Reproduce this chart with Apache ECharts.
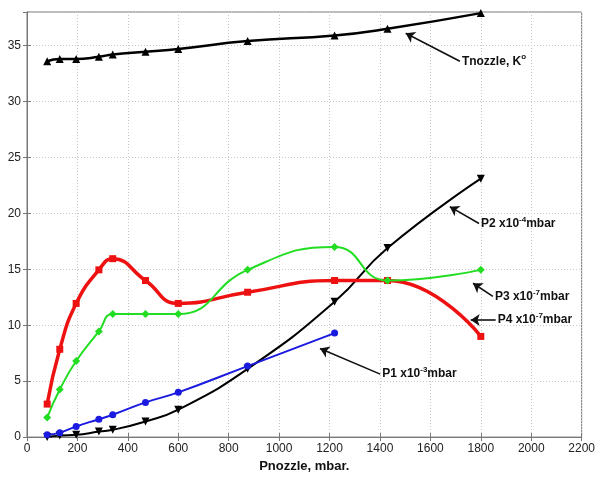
<!DOCTYPE html>
<html>
<head>
<meta charset="utf-8">
<script src="https://cdn.jsdelivr.net/npm/echarts@6/dist/echarts.min.js"></script>
<style>
  html, body { margin: 0; padding: 0; background: #fff; }
  #chart { width: 598px; height: 478px; }
</style>
</head>
<body>
<div id="chart"></div>
<script>
  // pressure at the nozzle, mbar
  const pnozzle = [80, 130, 195, 285, 340, 470, 600, 875, 1220, 1430, 1800]
  const tnozzle = [33.6, 33.8, 33.8, 34.0, 34.2, 34.45, 34.7, 35.4, 35.9, 36.5, 37.9]
  const p2 = [0.0, 0.15, 0.2, 0.5, 0.65, 1.4, 2.45, 6.1, 12.1, 16.9, 23.1]
  const p4 = [2.95, 7.85, 11.95, 14.95, 15.95, 14.0, 11.95, 12.95, 14.0, 14.0, 9.0]
  const p3 = [1.75, 4.25, 6.8, 9.45, 11.0, 11.0, 11.0, 14.95, 17.0, 14.0, 14.95]
  const p1x = [80, 130, 195, 285, 340, 470, 600, 875, 1220]
  const p1 = [0.2, 0.4, 0.95, 1.6, 2.0, 3.1, 4.0, 6.35, 9.3]

  const xTicks = { min: 0, max: 2200, interval: 200 }
  const yTicks = { min: 0, max: 38, interval: 5 }

  const font = "'Liberation Sans', Arial, sans-serif"
  const rich = {
      b: { fontSize: 12, fontWeight: 'bold', fontFamily: font, color: '#111', lineHeight: 16 },
      s: { fontSize: 8, fontWeight: 'bold', fontFamily: font, color: '#111', verticalAlign: 'top' }
  }

  const pair = (xs, ys) => xs.map((x, i) => [x, ys[i]])

  // arrow from the label to the curve, plus the label itself
  function note(from, to, text) {
      return {
          markLine: {
              silent: true,
              animation: false,
              symbol: ['none', 'arrow'],
              symbolSize: 9,
              lineStyle: { color: '#111', width: 1.6, type: 'solid' },
              label: { show: false },
              data: [[{ coord: from }, { coord: to }]]
          },
          markPoint: {
              silent: true,
              animation: false,
              symbol: 'circle',
              symbolSize: 2,
              itemStyle: { color: 'rgba(0,0,0,0)' },
              label: {
                  show: true,
                  position: 'right',
                  distance: 1,
                  formatter: text,
                  rich: rich
              },
              data: [{ coord: from }]
          }
      }
  }

  const chart = echarts.init(document.getElementById('chart'))

  const gridLine = { show: true, lineStyle: { color: '#c8c8c8', type: [1, 2], width: 1 } }
  const frame = { show: true, lineStyle: { color: '#777', width: 1 } }
  const tick = { show: true, inside: true, length: 4, lineStyle: { color: '#777' } }
  const tickLabel = { fontSize: 12, color: '#222', fontFamily: font, formatter: v => String(v) }

  chart.setOption({
      animation: false,
      grid: { left: 27, right: 15, top: 12, bottom: 34, show: true, borderColor: '#777', borderWidth: 1 },
      xAxis: [{
          type: 'value',
          ...xTicks,
          axisLine: frame,
          axisTick: tick,
          splitLine: gridLine,
          axisLabel: { ...tickLabel, margin: 6 },
          name: 'Pnozzle, mbar.',
          nameLocation: 'middle',
          nameGap: 20,
          nameTextStyle: { fontSize: 13, fontWeight: 'bold', color: '#111', fontFamily: font }
      }, {
          type: 'value',
          position: 'top',
          ...xTicks,
          axisLine: frame,
          axisTick: tick,
          splitLine: { show: false },
          axisLabel: { show: false }
      }],
      yAxis: [{
          type: 'value',
          ...yTicks,
          axisLine: frame,
          axisTick: tick,
          splitLine: gridLine,
          axisLabel: { ...tickLabel, margin: 6, showMaxLabel: false }
      }, {
          type: 'value',
          position: 'right',
          ...yTicks,
          axisLine: frame,
          axisTick: tick,
          splitLine: { show: false },
          axisLabel: { show: false }
      }],
      series: [{
          name: 'Tnozzle',
          type: 'line',
          smooth: true,
          data: pair(pnozzle, tnozzle),
          symbol: 'triangle',
          symbolSize: 8,
          lineStyle: { color: '#000', width: 2.5 },
          itemStyle: { color: '#000' },
          ...note([1717, 33.6], [1502, 36.1], '{b|Tnozzle, K}{s|o}')
      }, {
          name: 'P2',
          type: 'line',
          smooth: true,
          data: pair(pnozzle, p2),
          symbol: 'triangle',
          symbolRotate: 180,
          symbolSize: 8,
          lineStyle: { color: '#000', width: 2 },
          itemStyle: { color: '#000' },
          ...note([1793, 19.1], [1677, 20.6], '{b|P2 x10}{s|-4}{b|mbar}')
      }, {
          name: 'P4',
          type: 'line',
          smooth: true,
          data: pair(pnozzle, p4),
          symbol: 'rect',
          symbolSize: 7,
          lineStyle: { color: '#ee1111', width: 3.5 },
          itemStyle: { color: '#ee1111' },
          ...note([1859, 10.47], [1760, 10.47], '{b|P4 x10}{s|-7}{b|mbar}')
      }, {
          name: 'P3',
          type: 'line',
          smooth: true,
          data: pair(pnozzle, p3),
          symbol: 'diamond',
          symbolSize: 8,
          lineStyle: { color: '#22dd22', width: 2 },
          itemStyle: { color: '#22dd22' },
          ...note([1848, 12.58], [1769, 13.75], '{b|P3 x10}{s|-7}{b|mbar}')
      }, {
          name: 'P1',
          type: 'line',
          smooth: true,
          data: pair(p1x, p1),
          symbol: 'circle',
          symbolSize: 7,
          lineStyle: { color: '#1a1ae0', width: 2 },
          itemStyle: { color: '#1a1ae0' },
          ...note([1401, 5.63], [1162, 7.92], '{b|P1 x10}{s|-3}{b|mbar}')
      }]
  })
</script>
</body>
</html>
